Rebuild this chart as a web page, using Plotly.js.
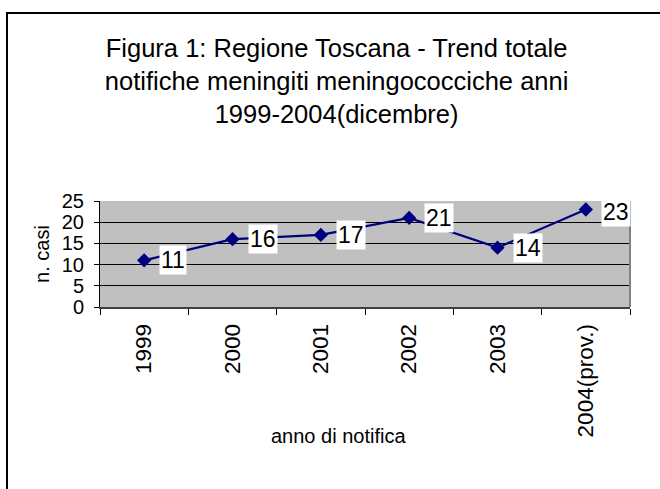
<!DOCTYPE html>
<html>
<head>
<meta charset="utf-8">
<script src="https://cdn.plot.ly/plotly-3.0.1.min.js"></script>
<style>
  body { margin: 0; background: #fff; }
  #chart { width: 660px; height: 489px; }
</style>
</head>
<body>
<div id="chart"></div>
<script>
const anni = ['1999', '2000', '2001', '2002', '2003', '2004(prov.)'];
const casi = [11, 16, 17, 21, 14, 23];
const labelShiftY = [0, 0, 0, 0, 0, -3];

const font = 'Arial, "Liberation Sans", sans-serif';

const trace = {
  x: anni,
  y: casi,
  type: 'scatter',
  mode: 'lines+markers',
  line: { color: '#000080', width: 2.2 },
  marker: { symbol: 'diamond', size: 11, color: '#000080' },
  hoverinfo: 'skip'
};

// etichette dei valori con sfondo bianco (x = indice della categoria)
const labels = anni.map((a, i) => ({
  x: i,
  y: casi[i],
  xref: 'x',
  yref: 'y',
  text: String(casi[i]),
  showarrow: false,
  xanchor: 'left',
  yanchor: 'middle',
  xshift: 15,
  yshift: labelShiftY[i],
  bgcolor: '#ffffff',
  borderpad: 1,
  font: { family: font, size: 23, color: '#000' }
}));

labels.push({
  x: 0.45, y: -1.22,
  xref: 'paper', yref: 'paper',
  text: 'anno di notifica',
  showarrow: false,
  xanchor: 'center', yanchor: 'middle',
  font: { family: font, size: 20, color: '#000' }
});

const layout = {
  width: 660,
  height: 489,
  margin: { l: 100, r: 30, t: 201, b: 182 },
  paper_bgcolor: '#ffffff',
  plot_bgcolor: '#c0c0c0',
  showlegend: false,
  title: {
    text: 'Figura 1: Regione Toscana - Trend totale<br>notifiche meningiti meningococciche anni<br>1999-2004(dicembre)',
    font: { family: font, size: 25.5, color: '#000' },
    x: 0.51, xanchor: 'center',
    y: 1 - 57 / 489, yanchor: 'middle'
  },
  xaxis: {
    type: 'category',
    range: [-0.5, 5.5],
    tickson: 'boundaries',
    ticks: 'outside',
    ticklen: 6,
    tickcolor: '#000',
    tickangle: -90,
    ticklabelstandoff: 6,
    tickfont: { family: font, size: 22.5, color: '#000' },
    showline: true,
    linecolor: '#404040',
    linewidth: 2,
    showgrid: false,
    zeroline: false,
    fixedrange: true
  },
  yaxis: {
    range: [0, 25],
    dtick: 5,
    ticks: 'outside',
    ticklen: 5,
    tickcolor: '#000',
    ticklabelstandoff: 6,
    tickfont: { family: font, size: 20, color: '#000' },
    showline: true,
    linecolor: '#000',
    linewidth: 1,
    showgrid: true,
    gridcolor: '#000',
    gridwidth: 1,
    zeroline: false,
    title: { text: 'n. casi', font: { family: font, size: 20, color: '#000' }, standoff: 6 },
    fixedrange: true
  },
  shapes: [
    { type: 'line', xref: 'paper', yref: 'paper', x0: 1, x1: 1, y0: 0, y1: 1,
      line: { color: '#808080', width: 2 } },
    { type: 'rect', xref: 'paper', yref: 'paper',
      x0: (7 - 100) / 530, x1: 1.2, y0: -2.2, y1: (307 - 13) / 106,
      line: { color: '#000', width: 2 }, layer: 'below' }
  ],
  annotations: labels
};

Plotly.newPlot('chart', [trace], layout, { displayModeBar: false, staticPlot: true });
</script>
</body>
</html>
